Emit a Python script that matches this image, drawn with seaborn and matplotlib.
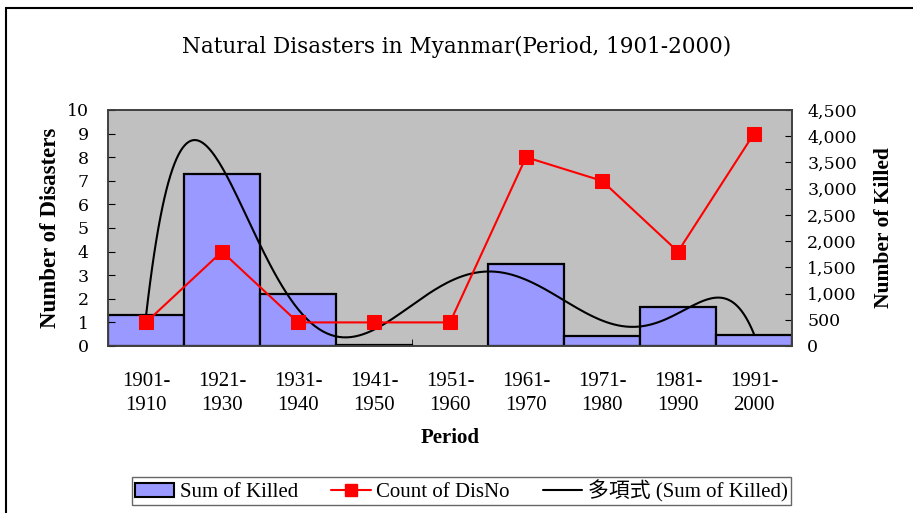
import numpy as np
import pandas as pd
import seaborn as sns
import matplotlib.pyplot as plt
from matplotlib.patches import Rectangle
from matplotlib.lines import Line2D
from matplotlib.ticker import FuncFormatter

# data (1951-1960 has no killed value)
periods = ["1901-\n1910", "1921-\n1930", "1931-\n1940", "1941-\n1950", "1951-\n1960",
           "1961-\n1970", "1971-\n1980", "1981-\n1990", "1991-\n2000"]
killed = [590, 3280, 1000, 15, np.nan, 1560, 190, 750, 205]
count_disno = [1, 4, 1, 1, 1, 8, 7, 4, 9]

df = pd.DataFrame({"period": periods, "killed": killed, "count": count_disno,
                   "pos": np.arange(len(periods))})

sns.set_style("white")
plt.rcParams["font.family"] = ["Liberation Serif", "Noto Sans CJK JP"]
for k in ["text.color", "axes.labelcolor", "xtick.color", "ytick.color"]:
    plt.rcParams[k] = "black"

fig = plt.figure(figsize=(9.13, 5.13), dpi=100)
ax = fig.add_axes([108 / 913, 1 - 346 / 513, (792 - 108) / 913, (346 - 110) / 513])
ax.set_facecolor("#C0C0C0")

# bars: Sum of Killed (right-hand scale)
sns.barplot(data=df, x="pos", y="killed", ax=ax, color="#9999FF", width=1.0,
            edgecolor="black", linewidth=1.6, saturation=1)
ax.set_ylim(0, 4500)
ax.set_xlim(-0.5, len(periods) - 0.5)

# 6th order polynomial trendline (Excel style), blank period skipped
xi = np.arange(1, len(killed) + 1)
kv = np.array(killed, float)
ok = ~np.isnan(kv)
coef = np.polyfit(xi[ok], kv[ok], 6)
xs = np.linspace(1, len(killed), 300)
ax.plot(xs - 1, np.polyval(coef, xs), color="black", lw=1.5, zorder=3)

ax.set_xticks(np.arange(len(periods)))
ax.set_xticklabels(periods, fontsize=15, linespacing=1.35)
ax.tick_params(axis="x", length=0, pad=19)
ax.set_xticks(np.arange(len(periods) + 1) - 0.5, minor=True)
ax.tick_params(axis="x", which="minor", direction="in", length=5, bottom=True)
ax.set_xlabel("Period", fontsize=15, fontweight="bold", labelpad=9)

# line: Count of DisNo (left-hand scale)
ax2 = ax.twinx()
sns.lineplot(data=df, x="pos", y="count", ax=ax2, color="red", lw=1.5, marker="s",
             markersize=9.5, markeredgecolor="red")
ax2.set_ylim(0, 10)
ax2.set_xlim(-0.5, len(periods) - 0.5)
ax2.set_xlabel("")

# swap sides: killed on the right, disasters on the left
ax.yaxis.tick_right()
ax.yaxis.set_label_position("right")
ax.set_yticks(np.arange(0, 4501, 500))
ax.yaxis.set_major_formatter(FuncFormatter(lambda v, p: f"{int(v):,}"))
ax.tick_params(axis="y", direction="in", length=5, left=False, right=True, pad=11)
for t in ax.get_yticklabels():
    t.set_fontfamily("DejaVu Serif")
    t.set_fontsize(12.5)
ax.set_ylabel("Number of Killed", fontsize=15.5, fontweight="bold", labelpad=12)

ax2.yaxis.tick_left()
ax2.yaxis.set_label_position("left")
ax2.set_yticks(range(0, 11))
ax2.tick_params(axis="y", direction="in", length=5, left=True, right=False, pad=14)
for t in ax2.get_yticklabels():
    t.set_fontfamily("DejaVu Serif")
    t.set_fontsize(12.5)
ax2.set_ylabel("Number of Disasters", fontsize=16.5, fontweight="bold", labelpad=4)

for a in (ax, ax2):
    for s in a.spines.values():
        s.set_color("#404040")
        s.set_linewidth(1.2)

fig.text(0.5, 1 - 47 / 513, "Natural Disasters in Myanmar(Period, 1901-2000)", ha="center",
         va="center", fontsize=15.5, fontfamily="DejaVu Serif")

handles = [Rectangle((0, 0), 1, 1, facecolor="#9999FF", edgecolor="black", lw=1.5),
           Line2D([], [], color="red", lw=1.5, marker="s", markersize=8),
           Line2D([], [], color="black", lw=1.5)]
leg = fig.legend(handles, ["Sum of Killed", "Count of DisNo", "多項式 (Sum of Killed)"],
                 loc="center", bbox_to_anchor=(0.505, 1 - 491 / 513), ncol=3, fontsize=15,
                 frameon=True, fancybox=False, edgecolor="#404040", borderpad=0.15,
                 handlelength=1.9, columnspacing=1.6, handletextpad=0.25)
leg.get_frame().set_linewidth(1.0)

fig.patches.append(Rectangle((6 / 913, -0.1), 1.0, 1.1 - 8 / 513, transform=fig.transFigure,
                             fill=False, edgecolor="black", lw=1.5))

fig.savefig("out.png", dpi=100)
